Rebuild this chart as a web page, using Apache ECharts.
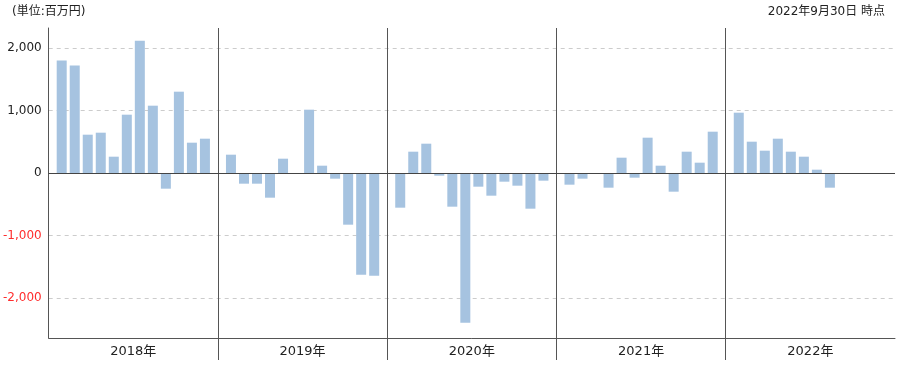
<!DOCTYPE html>
<html>
<head>
<meta charset="utf-8">
<script src="https://cdn.jsdelivr.net/npm/echarts@6/dist/echarts.min.js"></script>
<style>
html,body{margin:0;padding:0;background:#fff;}
#chart{width:917px;height:366px;}
</style>
</head>
<body>
<div id="chart"></div>
<script>
const years = ['2018年', '2019年', '2020年', '2021年', '2022年'];
const v2018 = [1800, 1720, 613, 645, 261, 933, 2117, 1077, -251, 1301, 485, 549];
const v2019 = [293, -171, -171, -395, 229, 0, 1013, 117, -91, -827, -1627, -1643];
const v2020 = [-555, 341, 469, -43, -539, -2395, -219, -363, -139, -203, -571, -123];
const v2021 = [-187, -91, 0, -235, 245, -75, 565, 117, -299, 341, 165, 661];
const v2022 = [965, 501, 357, 549, 341, 261, 53, -235];
const yTicks = [-2000, -1000, 0, 1000, 2000];
const unitText = '(単位:百万円)';
const asOfText = '2022年9月30日 時点';

const yearValues = [v2018, v2019, v2020, v2021, v2022];
const monthCats = [];
const barData = [];
years.forEach(function (y, i) {
  monthCats.push('');
  barData.push(null);
  for (let m = 0; m < 12; m++) {
    monthCats.push(y + (m + 1) + '月');
    const v = yearValues[i][m];
    barData.push(v === undefined ? null : v);
  }
});
monthCats.push('');
barData.push(null);
const lastIdx = monthCats.length - 1;
const isBoundary = function (idx) { return idx % 13 === 0 && idx > 0 && idx < lastIdx; };

const FONT = '"DejaVu Sans", "Noto Sans CJK JP", sans-serif';
const chart = echarts.init(document.getElementById('chart'), null, {renderer: 'canvas'});
chart.setOption({
  animation: false,
  backgroundColor: '#fff',
  textStyle: {fontFamily: FONT},
  title: [
    {text: unitText, left: 7, top: 1, textStyle: {fontSize: 12, fontWeight: 'normal', color: '#222', fontFamily: FONT}},
    {text: asOfText, right: 27, top: 1, textStyle: {fontSize: 12, fontWeight: 'normal', color: '#222', fontFamily: FONT}}
  ],
  grid: {left: 46, right: 22, top: 28, bottom: 28, containLabel: false},
  xAxis: [
    {
      type: 'category',
      data: years,
      position: 'bottom',
      boundaryGap: true,
      axisLine: {show: true, onZero: false, lineStyle: {color: '#555', width: 1}},
      axisTick: {show: false},
      splitLine: {show: false},
      axisLabel: {show: true, margin: 7, fontSize: 13, color: '#222', fontFamily: FONT}
    },
    {
      type: 'category',
      data: monthCats,
      position: 'bottom',
      boundaryGap: false,
      axisLine: {show: false, onZero: false},
      axisLabel: {show: false},
      axisTick: {show: true, inside: false, length: 22, interval: function (idx) { return isBoundary(idx); }, lineStyle: {color: '#555', width: 1}},
      splitLine: {show: true, interval: function (idx) { return isBoundary(idx); }, lineStyle: {color: '#555', width: 1, type: 'solid'}}
    }
  ],
  yAxis: {
    type: 'value',
    min: -2640,
    max: 2320,
    axisLine: {show: true, lineStyle: {color: '#555', width: 1}},
    axisTick: {show: false, customValues: yTicks},
    axisLabel: {
      customValues: yTicks,
      margin: 7,
      fontSize: 12,
      fontFamily: FONT,
      formatter: function (v) { return v.toLocaleString('en-US'); },
      color: function (v) { return Number(v) < 0 ? '#ff2d2d' : '#222'; }
    },
    splitLine: {show: true, lineStyle: {color: '#cccccc', type: [4, 4], width: 1}}
  },
  series: [{
    type: 'bar',
    xAxisIndex: 1,
    data: barData,
    barWidth: 10,
    itemStyle: {color: '#a6c3e0'},
    markLine: {
      silent: true,
      symbol: 'none',
      label: {show: false},
      lineStyle: {color: '#444', width: 1, type: 'solid'},
      data: [{yAxis: 0}]
    }
  }]
});
</script>
</body>
</html>
